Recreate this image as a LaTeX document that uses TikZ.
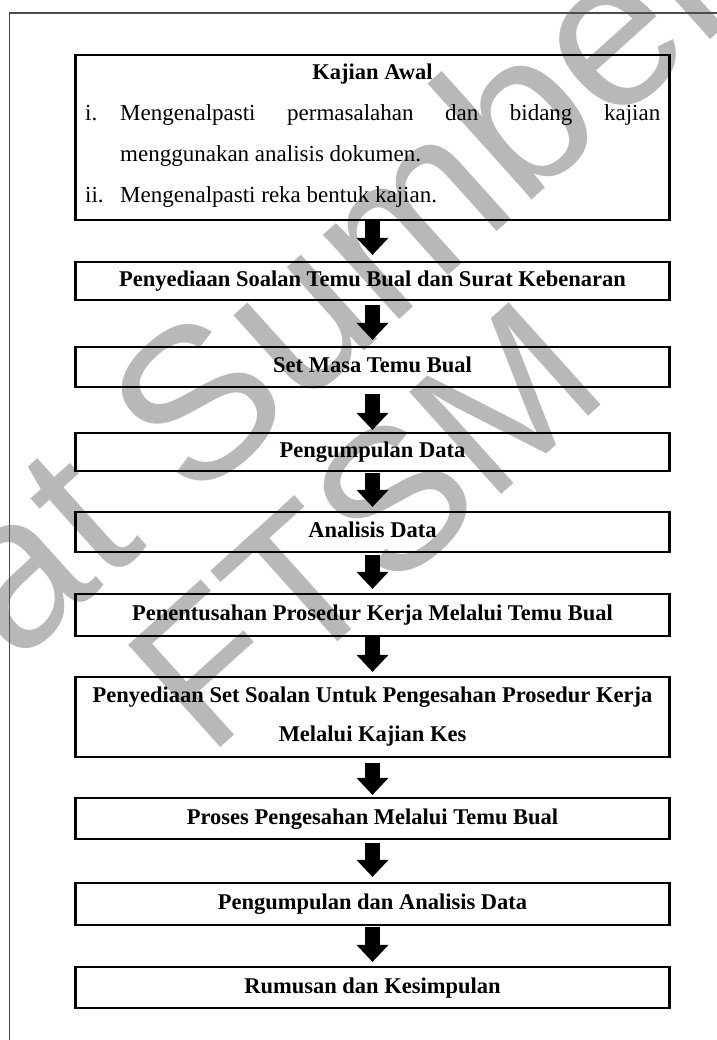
\documentclass[tikz,border=0pt]{standalone}
\usepackage{fontspec}
\setmainfont{Liberation Serif}
\newfontfamily\wmfont{Liberation Sans}
\usetikzlibrary{arrows.meta}

\begin{document}
\begin{tikzpicture}[x=1pt,y=-1pt,
  stage/.style={draw=black, line width=2.2pt, minimum width=594pt, inner sep=0pt,
    font=\bfseries\fontsize{22.5}{27}\selectfont, align=center},
  oneline/.style={stage, text height=16pt, text depth=5pt},
  body/.style={inner sep=0pt, font=\fontsize{23}{27}\selectfont},
  flow/.style={line width=15pt, -{Triangle[width=31pt,length=17pt]}},
  wmtext/.style={inner sep=0pt, text=black!28}
]
\useasboundingbox (0,0) rectangle (716,1040);

% background stamp
\begin{scope}
  \clip (0,0) rectangle (716,1040);
  \node[wmtext, font=\wmfont\fontsize{215}{215}\selectfont, rotate=42] (wm1) at (195,400) {Pusat Sumber};
  \node[wmtext, font=\wmfont\fontsize{200}{200}\selectfont, rotate=42] (wm2) at (365,525) {FTSM};
\end{scope}

% page frame
\draw[line width=1.3pt, draw=black!70] (9.5,1045) -- (9.5,13) -- (720,13);

% first stage with its list
\node[stage, minimum height=165pt] (b1) at (372.5,137.5) {};
\node[body, font=\bfseries\fontsize{22.5}{27}\selectfont, anchor=base] (t0) at (372.5,80) {Kajian Awal};
\node[body, anchor=base west] (n1) at (85,121) {i.};
\node[body, anchor=base west] (l1) at (120,121) {\makebox[540pt][s]{Mengenalpasti permasalahan dan bidang kajian}};
\node[body, anchor=base west] (l2) at (120,162) {menggunakan analisis dokumen.};
\node[body, anchor=base west] (n2) at (85,203) {ii.};
\node[body, anchor=base west] (l3) at (120,203) {Mengenalpasti reka bentuk kajian.};

% remaining stages
\node[oneline, minimum height=38pt] (b2) at (372.5,281) {Penyediaan Soalan Temu Bual dan Surat Kebenaran};
\node[oneline, minimum height=40pt] (b3) at (372.5,367) {Set Masa Temu Bual};
\node[oneline, minimum height=38pt] (b4) at (372.5,452) {Pengumpulan Data};
\node[oneline, minimum height=40pt] (b5) at (372.5,532) {Analisis Data};
\node[oneline, minimum height=42pt] (b6) at (372.5,615) {Penentusahan Prosedur Kerja Melalui Temu Bual};
\node[stage, minimum height=80pt] (b7) at (372.5,717) {Penyediaan Set Soalan Untuk Pengesahan Prosedur Kerja\\[12pt]Melalui Kajian Kes};
\node[oneline, minimum height=41pt] (b8) at (372.5,818.5) {Proses Pengesahan Melalui Temu Bual};
\node[oneline, minimum height=42pt] (b9) at (372.5,904) {Pengumpulan dan Analisis Data};
\node[oneline, minimum height=41pt] (b10) at (372.5,987.5) {Rumusan dan Kesimpulan};

% block arrows between stages
\draw[flow, shorten <=0pt, shorten >=6pt] (b1.south) -- (b2.north);
\draw[flow, shorten <=4pt, shorten >=6pt] (b2.south) -- (b3.north);
\draw[flow, shorten <=6pt, shorten >=2pt] (b3.south) -- (b4.north);
\draw[flow, shorten <=1pt, shorten >=4pt] (b4.south) -- (b5.north);
\draw[flow, shorten <=2pt, shorten >=4pt] (b5.south) -- (b6.north);
\draw[flow, shorten <=0pt, shorten >=4pt] (b6.south) -- (b7.north);
\draw[flow, shorten <=5pt, shorten >=2pt] (b7.south) -- (b8.north);
\draw[flow, shorten <=3pt, shorten >=5pt] (b8.south) -- (b9.north);
\draw[flow, shorten <=1pt, shorten >=4pt] (b9.south) -- (b10.north);
\end{tikzpicture}
\end{document}
